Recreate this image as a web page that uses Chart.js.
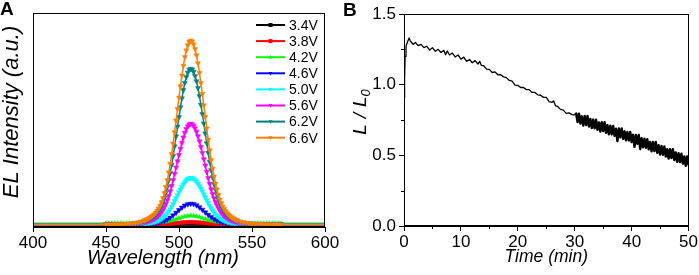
<!DOCTYPE html>
<html>
<head>
<meta charset="utf-8">
<script src="https://cdn.jsdelivr.net/npm/chart.js@4.4.1/dist/chart.umd.min.js"></script>
<style>
  body { margin: 0; background: #fff; width: 699px; height: 275px; overflow: hidden; position: relative; }
  canvas { position: absolute; top: 0; }
  #c-spec { left: 0; }
  #c-life { left: 345px; }
  .tag { position: absolute; font: bold 19px 'Liberation Sans', Arial, sans-serif; line-height: 1; }
</style>
</head>
<body>
<canvas id="c-spec" width="345" height="275"></canvas>
<canvas id="c-life" width="354" height="275"></canvas>
<div class="tag" style="left:0px;top:-1px">A</div>
<div class="tag" style="left:343px;top:0px">B</div>
<script>
const FONT = "'Liberation Sans', Arial, sans-serif";

// ---- panel A: EL spectra ----
// coarse grid (2 nm) for the weak curves
const waveCoarse = [
  400, 420, 440,
  450, 452, 454, 456, 458, 460, 462, 464, 466, 468,
  470, 472, 474, 476, 478, 480, 482, 484, 486, 488,
  490, 492, 494, 496, 498, 500, 502, 504, 506, 508,
  510, 512, 514, 516, 518, 520, 522, 524, 526, 528,
  530, 532, 534, 536, 538, 540, 542, 544, 546, 548,
  550, 552, 554, 556, 558, 560, 562, 564, 566, 568, 570,
  585, 600
];
// 1 nm around the peak for the strong curves
const waveFine = [
  400, 420, 440,
  450, 452, 454, 456, 458, 460, 462, 464, 466, 468, 470, 472, 474, 476,
  477, 478, 479, 480, 481, 482, 483, 484, 485, 486,
  487, 488, 489, 490, 491, 492, 493, 494, 495, 496,
  497, 498, 499, 500, 501, 502, 503, 504, 505, 506,
  507, 508, 509, 510, 511, 512, 513, 514, 515, 516,
  517, 518, 519, 520, 521, 522, 523, 524, 525, 526,
  527, 528, 529, 530, 531, 532, 533, 534, 535, 536,
  537, 538, 539, 540,
  542, 544, 546, 548, 550, 552, 554, 556, 558, 560, 562, 564, 566, 568, 570,
  585, 600
];
const voltages = ['3.4V', '3.8V', '4.2V', '4.6V', '5.0V', '5.6V', '6.2V', '6.6V'];
const colors = ['#000000', '#ff0000', '#00ff00', '#0000ff', '#00ffff', '#ff00ff', '#008080', '#ff8000'];
const markers = ['rect', 'rect', 'triangle', 'triangle', 'triangle', 'triangle', 'triangle', 'triangle'];
const markerRot = [0, 0, 0, 180, 180, 180, 180, 180];

const el34 = [
  0, 0, 0,
  0, 0, 0, 0, 0, 0, 0, 0, 0, 0,
  0, 0, 0, 0, 0, 0, 0, 0, 0, 0,
  0, 0, 0, 0.002, 0.002, 0.003, 0.003, 0.004, 0.004, 0.004,
  0.004, 0.004, 0.003, 0.003, 0.002, 0.002, 0, 0, 0, 0,
  0, 0, 0, 0, 0, 0, 0, 0, 0, 0,
  0, 0, 0, 0, 0, 0, 0, 0, 0, 0, 0,
  0, 0
];
const el38 = [
  0, 0, 0,
  0, 0, 0, 0, 0, 0, 0, 0, 0, 0,
  0, 0, 0, 0, 0, 0, 0, 0, 0, 0.001,
  0.002, 0.003, 0.004, 0.005, 0.007, 0.008, 0.01, 0.011, 0.012, 0.012,
  0.012, 0.011, 0.01, 0.009, 0.007, 0.006, 0.004, 0.003, 0.002, 0.002,
  0.001, 0, 0, 0, 0, 0, 0, 0, 0, 0,
  0, 0, 0, 0, 0, 0, 0, 0, 0, 0, 0,
  0, 0
];
const el42 = [
  0.006, 0.006, 0.006,
  0.006, 0.006, 0.006, 0.006, 0.006, 0.006, 0.006, 0.006, 0.006, 0.006,
  0.006, 0.006, 0.007, 0.007, 0.007, 0.008, 0.008, 0.009, 0.01, 0.011,
  0.013, 0.016, 0.02, 0.024, 0.029, 0.034, 0.039, 0.043, 0.046, 0.047,
  0.046, 0.044, 0.04, 0.035, 0.03, 0.025, 0.02, 0.017, 0.014, 0.012,
  0.01, 0.009, 0.008, 0.008, 0.007, 0.007, 0.007, 0.006, 0.006, 0.006,
  0.006, 0.006, 0.006, 0.006, 0.006, 0.006, 0.006, 0.006, 0.006, 0.006, 0.006,
  0.006, 0.006
];
const el46 = [
  0, 0, 0,
  0, 0, 0, 0, 0, 0, 0, 0, 0, 0.001,
  0.001, 0.001, 0.002, 0.002, 0.003, 0.004, 0.005, 0.007, 0.01, 0.014,
  0.019, 0.027, 0.037, 0.05, 0.064, 0.078, 0.092, 0.103, 0.11, 0.113,
  0.111, 0.104, 0.093, 0.08, 0.066, 0.052, 0.04, 0.029, 0.021, 0.015,
  0.011, 0.008, 0.006, 0.004, 0.003, 0.002, 0.002, 0.001, 0.001, 0.001,
  0, 0, 0, 0, 0, 0, 0, 0, 0, 0, 0,
  0, 0
];
const el50 = [
  0, 0, 0,
  0, 0, 0, 0, 0, 0, 0.001, 0.001, 0.001, 0.002, 0.002, 0.003, 0.004, 0.005,
  0.006, 0.007, 0.008, 0.009, 0.011, 0.012, 0.014, 0.016, 0.019, 0.022,
  0.026, 0.03, 0.036, 0.043, 0.051, 0.061, 0.072, 0.083, 0.097, 0.111,
  0.127, 0.143, 0.159, 0.175, 0.19, 0.205, 0.218, 0.23, 0.24, 0.247,
  0.251, 0.253, 0.252, 0.248, 0.241, 0.233, 0.222, 0.209, 0.195, 0.18,
  0.164, 0.148, 0.132, 0.116, 0.102, 0.089, 0.077, 0.066, 0.056, 0.048,
  0.04, 0.034, 0.029, 0.025, 0.021, 0.018, 0.015, 0.013, 0.011, 0.01,
  0.009, 0.007, 0.006, 0.006,
  0.004, 0.003, 0.002, 0.002, 0.001, 0.001, 0.001, 0.001, 0, 0, 0, 0, 0, 0, 0,
  0, 0
];
const el56 = [
  0, 0, 0,
  0, 0, 0, 0.0002, 0.0003, 0.001, 0.001, 0.002, 0.002, 0.003, 0.004, 0.006, 0.008, 0.012,
  0.013, 0.015, 0.018, 0.02, 0.023, 0.026, 0.03, 0.035, 0.041, 0.048,
  0.056, 0.066, 0.078, 0.093, 0.111, 0.132, 0.155, 0.181, 0.21, 0.241,
  0.275, 0.31, 0.344, 0.378, 0.412, 0.444, 0.473, 0.499, 0.519, 0.534,
  0.544, 0.548, 0.545, 0.537, 0.523, 0.504, 0.48, 0.452, 0.421, 0.389,
  0.355, 0.321, 0.286, 0.252, 0.221, 0.192, 0.166, 0.142, 0.122, 0.104,
  0.088, 0.074, 0.063, 0.054, 0.046, 0.039, 0.033, 0.028, 0.025, 0.021,
  0.019, 0.016, 0.014, 0.012,
  0.009, 0.007, 0.005, 0.004, 0.003, 0.002, 0.002, 0.001, 0.001, 0.0003, 0, 0, 0, 0, 0,
  0, 0
];
const el62 = [
  0, 0, 0,
  0, 0, 0, 0.0003, 0.0005, 0.001, 0.002, 0.003, 0.003, 0.005, 0.007, 0.009, 0.013, 0.018,
  0.02, 0.024, 0.027, 0.031, 0.036, 0.041, 0.047, 0.053, 0.063, 0.074,
  0.086, 0.102, 0.121, 0.144, 0.172, 0.203, 0.24, 0.28, 0.324, 0.373,
  0.425, 0.479, 0.532, 0.584, 0.637, 0.686, 0.731, 0.771, 0.802, 0.826,
  0.841, 0.847, 0.843, 0.83, 0.808, 0.779, 0.742, 0.699, 0.651, 0.601,
  0.549, 0.495, 0.442, 0.39, 0.341, 0.296, 0.257, 0.22, 0.189, 0.161,
  0.136, 0.114, 0.097, 0.083, 0.071, 0.06, 0.052, 0.044, 0.038, 0.033,
  0.029, 0.025, 0.021, 0.019,
  0.014, 0.01, 0.008, 0.006, 0.004, 0.003, 0.003, 0.002, 0.001, 0.0004, 0, 0, 0, 0, 0,
  0, 0
];
const el66 = [
  0, 0, 0,
  0, 0, 0, 0.0003, 0.0006, 0.001, 0.002, 0.003, 0.004, 0.006, 0.008, 0.011, 0.015, 0.021,
  0.024, 0.028, 0.032, 0.037, 0.042, 0.048, 0.055, 0.063, 0.074, 0.087,
  0.102, 0.12, 0.143, 0.17, 0.203, 0.24, 0.283, 0.33, 0.383, 0.44,
  0.502, 0.565, 0.628, 0.69, 0.752, 0.81, 0.863, 0.91, 0.947, 0.975,
  0.993, 1.0, 0.995, 0.98, 0.954, 0.92, 0.876, 0.825, 0.769, 0.71,
  0.648, 0.585, 0.522, 0.46, 0.403, 0.35, 0.303, 0.26, 0.223, 0.19,
  0.16, 0.135, 0.115, 0.098, 0.084, 0.071, 0.061, 0.052, 0.045, 0.039,
  0.034, 0.029, 0.025, 0.022,
  0.016, 0.012, 0.009, 0.007, 0.005, 0.004, 0.003, 0.002, 0.001, 0.0005, 0, 0, 0, 0, 0,
  0, 0
];
const spectra = [el34, el38, el42, el46, el50, el56, el62, el66];
const spectraWave = [waveCoarse, waveCoarse, waveCoarse, waveCoarse, waveFine, waveFine, waveFine, waveFine];
const specTicks = [400, 450, 500, 550, 600];

// ---- panel B: luminance decay ----
const timeMin = [
  0, 0.1, 0.2, 0.35, 0.5, 0.7, 0.9, 1.1, 1.3, 1.6,
  2, 2.5, 3, 3.5, 4, 4.5, 5, 5.5, 6, 6.5,
  7, 7.3, 7.6, 8, 8.5, 9, 9.5, 10, 10.5, 11,
  11.5, 12, 12.5, 13, 13.3, 13.6, 14, 14.5, 15, 15.5,
  16, 16.5, 17, 17.5, 18, 18.5, 19, 19.5, 20, 20.5,
  21, 21.5, 22, 22.5, 23, 23.5, 24, 24.5, 25, 25.5,
  26, 26.3, 26.6, 27, 27.5, 28, 28.5, 29, 29.5, 30,
  30.25, 30.5, 30.75, 31, 31.25, 31.5, 31.75, 32,
  32.25, 32.5, 32.75, 33, 33.25, 33.5, 33.75, 34,
  34.25, 34.5, 34.75, 35, 35.25, 35.5, 35.75, 36,
  36.25, 36.5, 36.75, 37, 37.25, 37.5, 37.75, 38,
  38.25, 38.5, 38.75, 39, 39.25, 39.5, 39.75, 40,
  40.25, 40.5, 40.75, 41, 41.25, 41.5, 41.75, 42,
  42.25, 42.5, 42.75, 43, 43.25, 43.5, 43.75, 44,
  44.25, 44.5, 44.75, 45, 45.25, 45.5, 45.75, 46,
  46.25, 46.5, 46.75, 47, 47.25, 47.5, 47.75, 48,
  48.25, 48.5, 48.75, 49, 49.25, 49.5, 49.75, 50
];
const lumRatio = [
  0.91, 1.05, 1.2, 1.27, 1.29, 1.31, 1.33, 1.31, 1.3, 1.285,
  1.298, 1.276, 1.285, 1.262, 1.272, 1.245, 1.262, 1.236, 1.25, 1.228,
  1.243, 1.212, 1.238, 1.21, 1.224, 1.196, 1.21, 1.18, 1.195, 1.165,
  1.178, 1.155, 1.17, 1.146, 1.165, 1.136, 1.134, 1.11, 1.108, 1.086,
  1.09, 1.07, 1.07, 1.055, 1.05, 1.03, 1.025, 0.997, 0.995, 0.98,
  0.98, 0.965, 0.965, 0.945, 0.945, 0.928, 0.925, 0.91, 0.91, 0.88,
  0.875, 0.885, 0.852, 0.845, 0.825, 0.82, 0.797, 0.8, 0.788, 0.785,
  0.796, 0.735, 0.795, 0.725, 0.776, 0.711, 0.778, 0.715,
  0.778, 0.704, 0.757, 0.693, 0.753, 0.691, 0.752, 0.681,
  0.732, 0.668, 0.734, 0.672, 0.735, 0.66, 0.714, 0.649,
  0.709, 0.648, 0.708, 0.638, 0.689, 0.6, 0.691, 0.628,
  0.691, 0.617, 0.67, 0.606, 0.666, 0.604, 0.665, 0.594,
  0.645, 0.56, 0.645, 0.582, 0.645, 0.545, 0.622, 0.557,
  0.617, 0.554, 0.614, 0.543, 0.594, 0.528, 0.594, 0.531,
  0.594, 0.518, 0.571, 0.506, 0.566, 0.503, 0.563, 0.492,
  0.543, 0.477, 0.543, 0.48, 0.543, 0.467, 0.52, 0.455,
  0.515, 0.452, 0.512, 0.441, 0.492, 0.426, 0.492, 0.429
];
const minorTimeTicks = [5, 15, 25, 35, 45];
const minorRatioTicks = [0.25, 0.75, 1.25];

function drawMarker(ctx, style, rot, x, y, r) {
  ctx.beginPath();
  if (style === 'rect') {
    ctx.rect(x - r, y - r, 2 * r, 2 * r);
  } else {
    const s = rot ? -1 : 1;
    ctx.moveTo(x, y - s * r * 1.1);
    ctx.lineTo(x - r, y + s * r * 0.7);
    ctx.lineTo(x + r, y + s * r * 0.7);
    ctx.closePath();
  }
  ctx.fill();
}

const specDecor = {
  id: 'specDecor',
  afterDraw(chart) {
    const { ctx, chartArea: a } = chart;
    ctx.save();
    ctx.strokeStyle = '#000'; ctx.lineWidth = 1;
    ctx.strokeRect(Math.round(a.left) + 0.5, Math.round(a.top) + 0.5,
                   Math.round(a.right - a.left) - 1, Math.round(a.bottom - a.top) - 1);

    // legend
    ctx.font = '14px ' + FONT;
    ctx.textBaseline = 'middle';
    ctx.textAlign = 'left';
    voltages.forEach((v, i) => {
      const y = 25 + i * 16.1;
      ctx.strokeStyle = colors[i]; ctx.fillStyle = colors[i]; ctx.lineWidth = 2;
      ctx.beginPath(); ctx.moveTo(256, y); ctx.lineTo(285, y); ctx.stroke();
      drawMarker(ctx, markers[i], markerRot[i], 270.5, y, 2);
      ctx.fillStyle = '#000';
      ctx.fillText(v, 289, y + 1);
    });

    // axis titles
    ctx.fillStyle = '#000';
    ctx.font = 'italic 20px ' + FONT;
    ctx.textAlign = 'center'; ctx.textBaseline = 'alphabetic';
    ctx.fillText('Wavelength (nm)', 163, 264);
    ctx.translate(12, 112); ctx.rotate(-Math.PI / 2);
    ctx.font = 'italic 22px ' + FONT;
    ctx.textBaseline = 'middle';
    ctx.fillText('EL Intensity (a.u.)', 0, 0);
    ctx.restore();
  }
};

const lifeDecor = {
  id: 'lifeDecor',
  afterDraw(chart) {
    const { ctx, chartArea: a, scales } = chart;
    ctx.save();
    ctx.strokeStyle = '#000'; ctx.lineWidth = 1;
    ctx.strokeRect(Math.round(a.left) + 0.5, Math.round(a.top) + 0.5,
                   Math.round(a.right - a.left) - 1, Math.round(a.bottom - a.top) - 1);
    ctx.beginPath();
    minorTimeTicks.forEach(t => {
      const x = Math.round(scales.x.getPixelForValue(t)) + 0.5;
      ctx.moveTo(x, a.bottom); ctx.lineTo(x, a.bottom + 3);
    });
    minorRatioTicks.forEach(v => {
      const y = Math.round(scales.y.getPixelForValue(v)) + 0.5;
      ctx.moveTo(a.left, y); ctx.lineTo(a.left - 3, y);
    });
    ctx.stroke();

    ctx.fillStyle = '#000';
    ctx.font = 'italic 17.5px ' + FONT;
    ctx.textAlign = 'center'; ctx.textBaseline = 'alphabetic';
    ctx.fillText('Time (min)', (a.left + a.right) / 2, 262);

    // L / L0 with subscript
    ctx.translate(14, 112); ctx.rotate(-Math.PI / 2);
    ctx.textAlign = 'left';
    ctx.font = 'italic 19px ' + FONT;
    const parts = ['L', '/', 'L'];
    const gap = 6;
    const widths = parts.map(p => ctx.measureText(p).width);
    ctx.font = 'italic 13px ' + FONT;
    const subW = ctx.measureText('0').width;
    const total = widths.reduce((s, w) => s + w, 0) + gap * 2 + subW;
    let x = -total / 2;
    ctx.font = 'italic 19px ' + FONT;
    parts.forEach((p, i) => {
      ctx.fillText(p, x, 7);
      x += widths[i] + (i < 2 ? gap : 0);
    });
    ctx.font = 'italic 13px ' + FONT;
    ctx.fillText('0', x, 11);
    ctx.restore();
  }
};

new Chart(document.getElementById('c-spec'), {
  type: 'line',
  data: {
    datasets: spectra.map((s, i) => ({
      label: voltages[i],
      data: spectraWave[i].map((w, j) => ({ x: w, y: s[j] })),
      borderColor: colors[i],
      backgroundColor: colors[i],
      borderWidth: 1.5,
      pointStyle: markers[i],
      rotation: markerRot[i],
      pointRadius: c => (c.raw && c.raw.x >= 450 && c.raw.x <= 570) ? (i >= 3 ? 3 : 2.6) : 0,
      pointBorderWidth: 0.5,
      order: 7 - i
    }))
  },
  options: {
    responsive: false, animation: false, devicePixelRatio: 1,
    layout: { autoPadding: false, padding: { top: 13, right: 20, left: 0, bottom: 0 } },
    plugins: { legend: { display: false }, tooltip: { enabled: false } },
    scales: {
      x: {
        type: 'linear', min: 400, max: 600,
        afterFit: s => { s.height = 48; },
        afterBuildTicks: s => { s.ticks = specTicks.map(v => ({ value: v })); },
        ticks: { color: '#000', font: { family: FONT, size: 17 }, padding: 1, maxRotation: 0 },
        grid: { drawOnChartArea: false, tickLength: 5, color: '#000' },
        border: { color: '#000' }
      },
      y: {
        min: -0.014, max: 1.15,
        afterFit: s => { s.width = 33; },
        ticks: { display: false },
        grid: { display: false },
        border: { color: '#000' }
      }
    }
  },
  plugins: [specDecor]
});

new Chart(document.getElementById('c-life'), {
  type: 'line',
  data: {
    datasets: [{
      label: 'L/L0',
      data: timeMin.map((t, i) => ({ x: t, y: lumRatio[i] })),
      borderColor: '#000',
      borderWidth: 1.3,
      borderJoinStyle: 'round',
      segment: { borderWidth: c => c.p0.parsed.x >= 30 ? 2.4 : 1.3 },
      pointRadius: 0,
      tension: 0
    }]
  },
  options: {
    responsive: false, animation: false, devicePixelRatio: 1,
    layout: { autoPadding: false, padding: { top: 14, right: 9, left: 0, bottom: 0 } },
    plugins: { legend: { display: false }, tooltip: { enabled: false } },
    scales: {
      x: {
        type: 'linear', min: 0, max: 50,
        afterFit: s => { s.height = 49; },
        ticks: { stepSize: 10, color: '#000', font: { family: FONT, size: 17 }, padding: 1, maxRotation: 0 },
        grid: { drawOnChartArea: false, tickLength: 5, color: '#000' },
        border: { color: '#000' }
      },
      y: {
        min: 0, max: 1.5,
        afterFit: s => { s.width = 59; },
        ticks: { stepSize: 0.5, color: '#000', font: { family: FONT, size: 17 }, padding: 3,
                 callback: v => v.toFixed(1) },
        grid: { drawOnChartArea: false, tickLength: 5, color: '#000' },
        border: { color: '#000' }
      }
    }
  },
  plugins: [lifeDecor]
});
</script>
</body>
</html>
